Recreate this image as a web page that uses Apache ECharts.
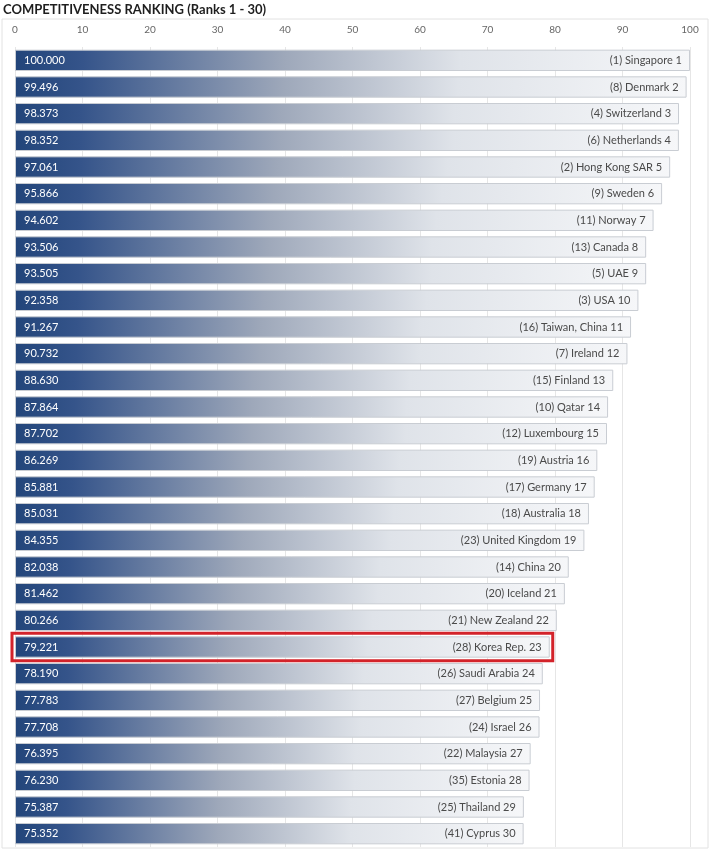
<!DOCTYPE html>
<html><head><meta charset="utf-8">
<script src="https://cdn.jsdelivr.net/npm/echarts@6/dist/echarts.min.js"></script>
<style>html,body{margin:0;padding:0;background:#fff}#c{width:710px;height:850px}</style>
</head><body><div id="c"></div>
<script>
const countries = ["Singapore","Denmark","Switzerland","Netherlands","Hong Kong SAR","Sweden","Norway","Canada","UAE","USA","Taiwan, China","Ireland","Finland","Qatar","Luxembourg","Austria","Germany","Australia","United Kingdom","China","Iceland","New Zealand","Korea Rep.","Saudi Arabia","Belgium","Israel","Malaysia","Estonia","Thailand","Cyprus"];
const scores = [100.000,99.496,98.373,98.352,97.061,95.866,94.602,93.506,93.505,92.358,91.267,90.732,88.630,87.864,87.702,86.269,85.881,85.031,84.355,82.038,81.462,80.266,79.221,78.190,77.783,77.708,76.395,76.230,75.387,75.352];
const prevRanks = [1,8,4,6,2,9,11,13,5,3,16,7,15,10,12,19,17,18,23,14,20,21,28,26,27,24,22,35,25,41];
const ranks = countries.map((c,i)=>i+1);
const highlight = "Korea Rep.";
const xTicks = {min:0,max:100,interval:10};

const FONT = 'Lato, "Open Sans", sans-serif';
const grad = new echarts.graphic.LinearGradient(0,0,1,0,[
  {offset:0,color:'#22457a'},
  {offset:0.1,color:'#35548a'},
  {offset:0.4,color:'#9ea8ba'},
  {offset:0.66,color:'#dfe3e9'},
  {offset:1,color:'#f6f7f9'}
]);
const hiIdx = countries.indexOf(highlight);
const chart = echarts.init(document.getElementById('c'),null,{renderer:'canvas'});
chart.setOption({
  animation:false,
  textStyle:{fontFamily:FONT},
  graphic:[
    {type:'text',left:3,top:3,style:{text:'COMPETITIVENESS RANKING (Ranks 1 - 30)',font:'bold 13px '+FONT,fill:'#1e1e1e'}},
    {type:'rect',shape:{x:2,y:19,width:706,height:829},style:{fill:'none',stroke:'#e2e2e2',lineWidth:1},z:-10}
  ],
  grid:{left:15,right:20,top:47,bottom:3},
  xAxis:{type:'value',position:'top',min:xTicks.min,max:xTicks.max,interval:xTicks.interval,
    axisLine:{show:false},axisTick:{show:false},
    axisLabel:{color:'#666',fontSize:10,margin:12,fontFamily:FONT},
    splitLine:{lineStyle:{color:'#e6e6e6'}}},
  yAxis:{type:'category',inverse:true,data:countries,show:false},
  series:[
    {type:'bar',barCategoryGap:'20%',
      data:scores,
      itemStyle:{color:grad,borderColor:'#c9cdd3',borderWidth:1},
      label:{show:true,position:'insideLeft',distance:9,color:'#fff',fontSize:11,fontFamily:FONT,
        formatter:p=>p.value.toFixed(3)}},
    {type:'bar',barGap:'-100%',barCategoryGap:'20%',silent:true,
      data:scores,
      itemStyle:{color:'rgba(0,0,0,0)'},
      label:{show:true,position:'insideRight',distance:8,color:'#4a4a4a',fontSize:11,fontFamily:FONT,
        formatter:p=>'('+prevRanks[p.dataIndex]+') '+countries[p.dataIndex]+' '+ranks[p.dataIndex]}},
    {type:'custom',silent:true,z:5,
      data:[[scores[hiIdx],hiIdx]],
      encode:{x:0,y:1},
      renderItem:(params,api)=>{
        const end = api.coord([api.value(0),api.value(1)]);
        const start = api.coord([0,api.value(1)]);
        const band = api.size([0,1])[1];
        const h = band*0.8;
        const pad = 3;
        return {type:'rect',
          shape:{x:start[0]-pad,y:end[1]-h/2-pad,width:end[0]-start[0]+2*pad,height:h+2*pad},
          style:{fill:'none',stroke:'#d3232a',lineWidth:3}};
      }}
  ]
});
</script></body></html>
